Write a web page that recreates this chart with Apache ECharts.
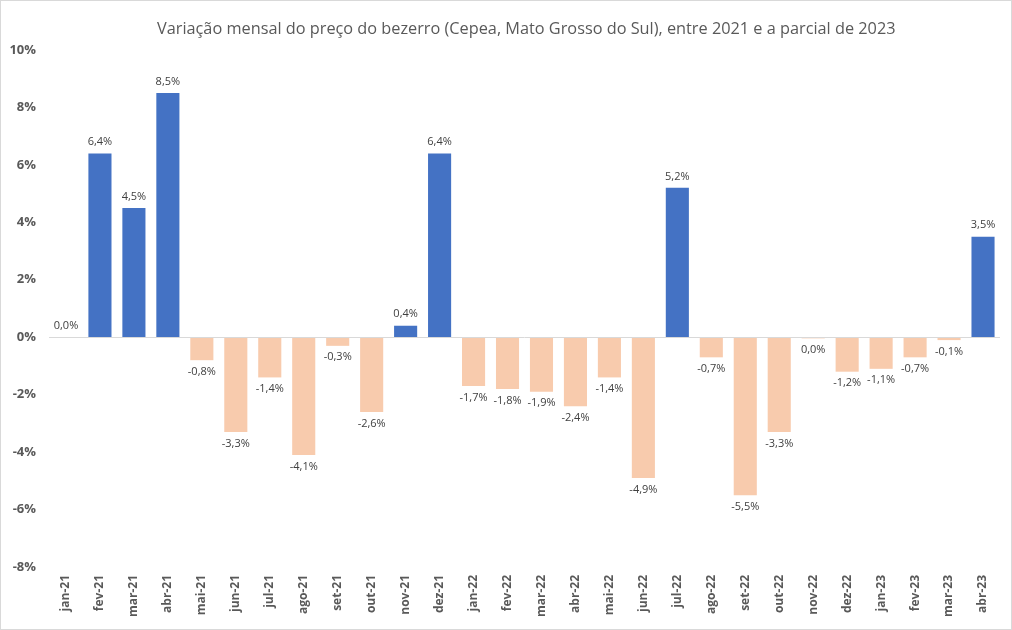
<!DOCTYPE html>
<html>
<head>
<meta charset="utf-8">
<script src="https://cdn.jsdelivr.net/npm/echarts@6/dist/echarts.min.js"></script>
<style>
  html, body { margin: 0; padding: 0; background: #fff; }
  #main { width: 1010px; height: 628px; border: 1px solid #d9d9d9; }
</style>
</head>
<body>
<div id="main"></div>
<script>
// meses
const meses = ['jan-21', 'fev-21', 'mar-21', 'abr-21', 'mai-21', 'jun-21', 'jul-21', 'ago-21', 'set-21', 'out-21', 'nov-21', 'dez-21',
    'jan-22', 'fev-22', 'mar-22', 'abr-22', 'mai-22', 'jun-22', 'jul-22', 'ago-22', 'set-22', 'out-22', 'nov-22', 'dez-22',
    'jan-23', 'fev-23', 'mar-23', 'abr-23'];
// variação mensal (%)
const variacao = [0.0, 6.4, 4.5, 8.5, -0.8, -3.3, -1.4, -4.1, -0.3, -2.6, 0.4, 6.4,
    -1.7, -1.8, -1.9, -2.4, -1.4, -4.9, 5.2, -0.7, -5.5, -3.3, -0.04, -1.2,
    -1.1, -0.7, -0.1, 3.5];
const yTicks = [-8, -6, -4, -2, 0, 2, 4, 6, 8, 10];

function fmt(v) {
    let s = (Math.abs(v) < 0.05 ? 0 : v).toFixed(1).replace('.', ',');
    return s + '%';
}

const chart = echarts.init(document.getElementById('main'));

const option = {
    animation: false,
    title: {
        text: 'Variação mensal do preço do bezerro (Cepea, Mato Grosso do Sul), entre 2021 e a parcial de 2023',
        left: 151,
        top: 15,
        textStyle: { fontFamily: 'Open Sans', fontSize: 16.3, fontWeight: 'normal', color: '#595959' }
    },
    grid: { left: 48, right: 11, top: 49, bottom: 62 },
    xAxis: {
        type: 'category',
        data: meses,
        axisLine: { show: false, onZero: false },
        axisTick: { show: false },
        axisLabel: {
            rotate: 90, margin: 8, interval: 0,
            fontFamily: 'Open Sans', fontSize: 12, fontWeight: 'bold', color: '#595959'
        }
    },
    yAxis: {
        type: 'value',
        min: yTicks[0],
        max: yTicks[yTicks.length - 1],
        interval: 2,
        splitLine: { show: false },
        axisLine: { show: false },
        axisTick: { show: false },
        axisLabel: {
            margin: 13,
            fontFamily: 'Open Sans', fontSize: 13, fontWeight: 'bold', color: '#595959',
            formatter: v => v + '%'
        }
    },
    series: [{
        type: 'bar',
        barCategoryGap: '32%',
        data: variacao.map(v => ({
            value: v,
            itemStyle: { color: v > 0 ? '#4472C4' : '#F8CBAD' },
            label: { position: v >= 0 ? 'top' : 'bottom' }
        })),
        label: {
            show: true,
            distance: 6,
            fontFamily: 'Open Sans', fontSize: 11, color: '#404040',
            formatter: p => fmt(p.value)
        },
        markLine: {
            silent: true,
            symbol: 'none',
            label: { show: false },
            lineStyle: { color: '#d9d9d9', width: 1, type: 'solid' },
            data: [{ yAxis: 0 }]
        }
    }]
};

chart.setOption(option);
</script>
</body>
</html>
